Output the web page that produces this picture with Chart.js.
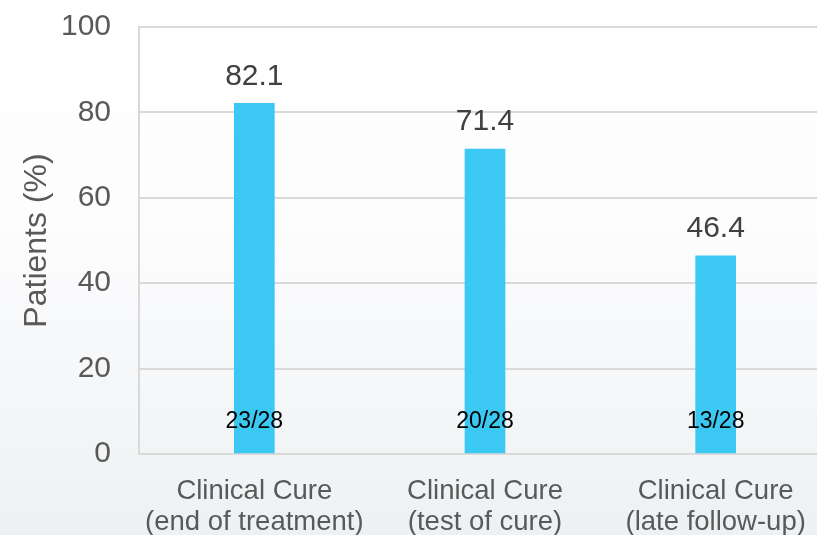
<!DOCTYPE html>
<html>
<head>
<meta charset="utf-8">
<script src="https://cdn.jsdelivr.net/npm/chart.js@4"></script>
<style>
  html, body { margin:0; padding:0; overflow:hidden; width:817px; height:535px; }
  body { background: linear-gradient(to bottom, #ffffff 0%, #fdfdfe 40%, #eef1f3 100%); }
  #wrap { position:absolute; left:0; top:0; width:831px; height:535px; }
</style>
</head>
<body>
<div id="wrap"><canvas id="c" width="831" height="535"></canvas></div>
<script>
const categories = [["Clinical Cure","(end of treatment)"],["Clinical Cure","(test of cure)"],["Clinical Cure","(late follow-up)"]];
const values = [82.1, 71.4, 46.4];
const fractions = ["23/28","20/28","13/28"];
const yTicks = [0,20,40,60,80,100];

const labelPlugin = {
  id:'labels',
  afterDatasetsDraw(chart){
    const ctx = chart.ctx;
    const meta = chart.getDatasetMeta(0);
    const y0 = chart.scales.y.getPixelForValue(0);
    ctx.save();
    ctx.textAlign='center';
    ctx.textBaseline='middle';
    meta.data.forEach((bar,i)=>{
      ctx.font='30px "Liberation Sans", Arial, sans-serif';
      ctx.fillStyle='#404040';
      ctx.fillText(values[i].toFixed(1), bar.x, bar.y-27);
      ctx.font='23px "Liberation Sans", Arial, sans-serif';
      ctx.fillStyle='#000000';
      ctx.fillText(fractions[i], bar.x, y0-32);
    });
    ctx.restore();
  }
};

new Chart(document.getElementById('c'), {
  type:'bar',
  data:{
    labels: categories,
    datasets:[{ data: values, backgroundColor:'#3BC8F2', barThickness:40 }]
  },
  options:{
    responsive:false,
    animation:false,
    layout:{ padding:{ top:27, left:0, right:0, bottom:0 } },
    plugins:{ legend:{display:false}, tooltip:{enabled:false} },
    scales:{
      x:{
        grid:{ display:false, drawTicks:false },
        border:{ display:false },
        ticks:{ color:'#595959', font:{ family:'"Liberation Sans", Arial, sans-serif', size:27.5, lineHeight:1.13 }, padding:22, maxRotation:0 },
        afterFit(s){ s.height = 81; s.paddingLeft = 0; s.paddingRight = 0; s.paddingTop = 0; s.paddingBottom = 0; }
      },
      y:{
        min:0, max:100,
        afterBuildTicks(s){ s.ticks = yTicks.map(v=>({value:v})); },
        grid:{ color:'#d9d9d9', lineWidth:2, drawTicks:false },
        border:{ display:true, color:'#d9d9d9', width:2 },
        ticks:{ color:'#595959', font:{ family:'"Liberation Sans", Arial, sans-serif', size:30 }, padding:28 },
        title:{ display:true, text:'Patients (%)', color:'#595959', font:{ family:'"Liberation Sans", Arial, sans-serif', size:32 }, padding:{top:18,bottom:0} },
        afterFit(s){ s.width = 139; s.paddingTop = 0; s.paddingBottom = 0; s.paddingLeft = 0; s.paddingRight = 0; }
      }
    }
  },
  plugins:[labelPlugin]
});
</script>
</body>
</html>
